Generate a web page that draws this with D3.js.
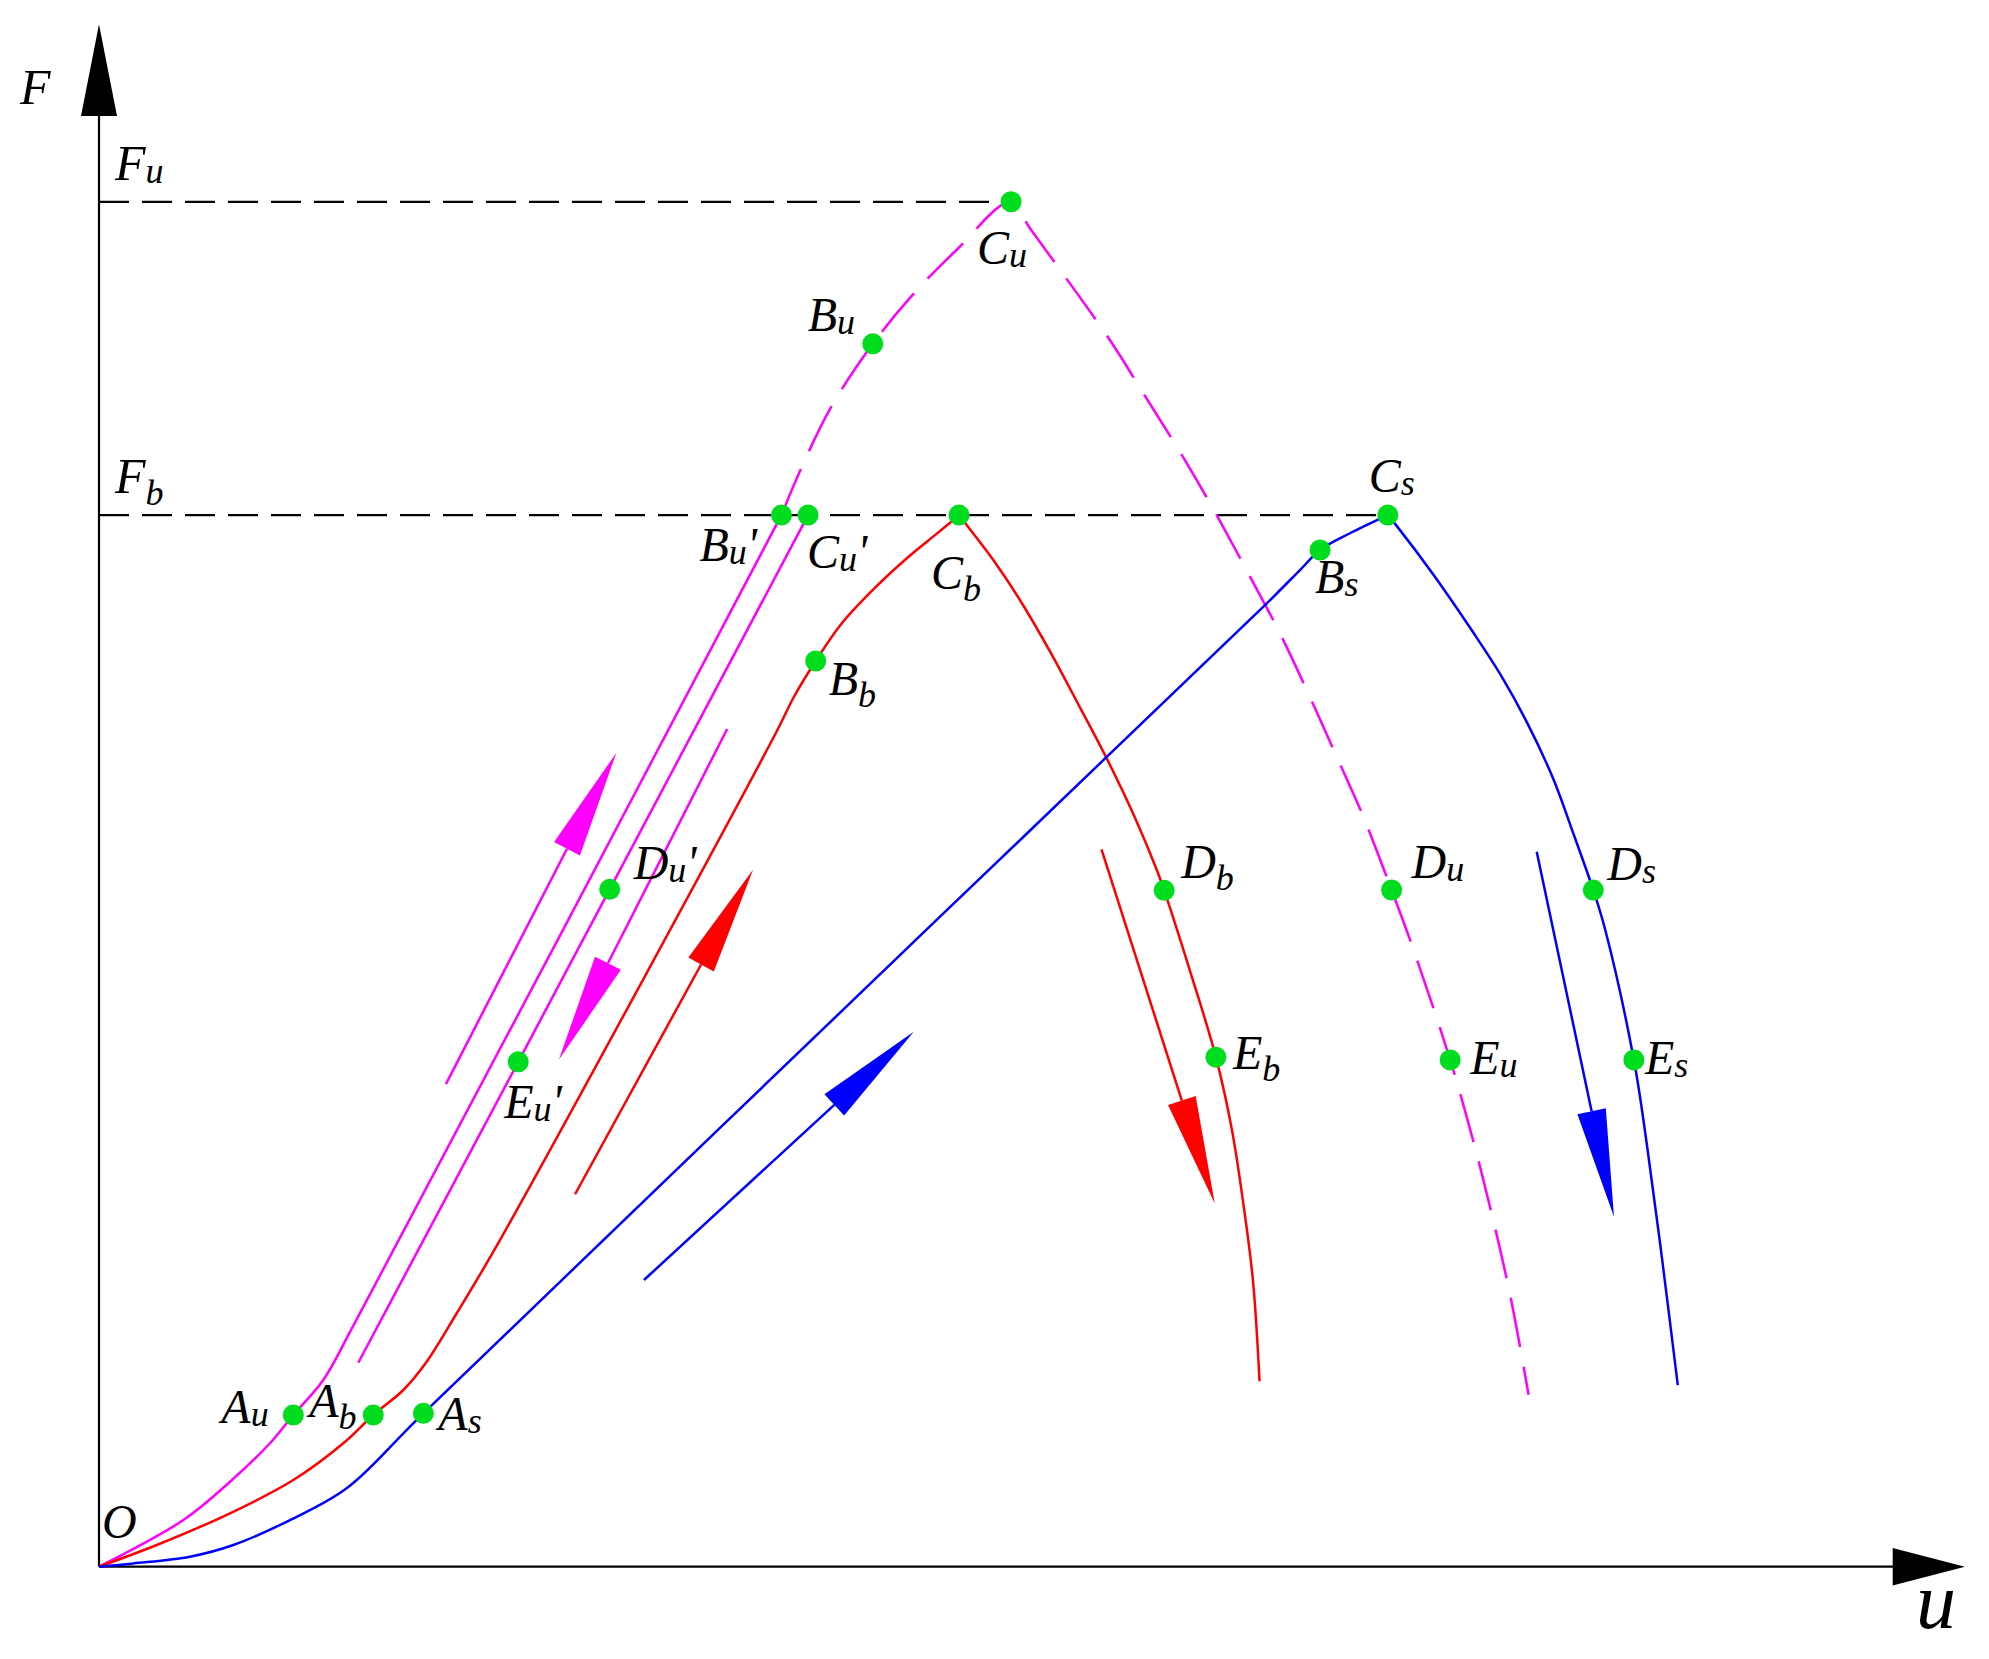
<!DOCTYPE html>
<html><head><meta charset="utf-8">
<script src="https://cdn.jsdelivr.net/npm/d3@7"></script>
<style>body{margin:0;background:#fff}svg{display:block}</style>
</head><body>
<svg id="chart" width="1989" height="1659"></svg>
<script>
// ---------- data (schematic units: u along x, F along y) ----------
const axisMax = {u: 1471, F: 1216};
const levelNames = ["u", "b"];
const levelF = [1076, 829];
const levelUEnd = [719, 1016];

const ultLoad = [[0,0],[66.5,36.8],[103.3,67],[134.8,97.3],[153.2,119.6],[176.8,147.2],[200,189],[538,829]];
const ultPeak = [[538,829],[553.6,866],[577,914],[610,964],[640,1001],[676,1038],[719,1076],[734,1055],[796.5,967.6],[824.8,922.6],[853,877.5],[865.3,856.7],[880,831],[906,783.1],[931,735.8],[953.3,688.5],[975.7,638.6],[996.7,591.3],[1019,533.5],[1035,490],[1065.2,399.5],[1083.2,336.2],[1099.9,269.9],[1113.4,209.5],[1127,135.6]];
const ultUnload = [[559,829],[402.6,534],[330.5,398],[204.4,160.8]];

const bLoad = [[0,0],[45.5,17.1],[103.3,42.1],[153.2,68.3],[192.6,97.3],[216.2,119.6],[239.9,139.3],[258.3,161.6],[282,199.8],[316.1,257.5],[534,658],[548,686],[565,714],[585,743],[612,772],[638,796],[660,814],[678,829]];
const bUnload = [[678,829],[684,821.2],[705,793.6],[726,762.1],[750,721],[773,678],[795,636],[816,592],[834,549],[839.7,533.2],[860,470],[880.5,401.7],[893,345],[902.3,284.9],[909.8,224.6],[914.9,146.2]];

const sLoad = [[0,0],[27,2.6],[71.7,7.9],[105.9,17.1],[150.6,36.8],[195.2,61.8],[255.7,120.9],[663,512.4],[919.2,758.1],[946.8,785.7],[962.6,801.5],[986.2,814.7],[1016,829]];
const sUnload = [[1016,829],[1023,820.5],[1052,782],[1083,737],[1105,703],[1126,665],[1146.5,621],[1162.2,578.2],[1178,533.4],[1187.4,502.1],[1210,399.5],[1220.6,330.2],[1232.6,239.7],[1244.6,143.1]];

const pointMain = ["A","A","A","B","C","B","C","C","B","C","B","D","E","D","E","D","E","D","E"];
const pointSub  = ["u","b","s","u","u","u","u","b","b","s","s","u","u","b","b","u","u","s","s"];
const pointPrime= [false,false,false,false,false,true,true,false,false,false,false,true,true,false,false,false,false,false,false];
const pointU = [153.2,216.2,255.7,610,719,538,559,678,565,1016,962.6,402.6,330.5,839.7,880.5,1019,1065.2,1178,1210];
const pointF = [119.6,119.6,120.9,964,1076,829,829,829,714,829,801.5,534,398,533.2,401.7,533.5,399.5,533.4,399.5];

const arrowKind  = ["u","u","b","b","s","s"];
const arrowStart = [[273.5,380.4],[495.2,660.4],[375.3,293.6],[790.3,565.5],[429.6,226],[1133.4,563.7]];
const arrowTip   = [[407.9,641.7],[362.6,399.8],[515.6,549.4],[879.6,286.4],[642.3,421.7],[1194.3,275.8]];

// ---------- layout / style ----------
const color = {u: "#ff00ff", b: "#ff0000", s: "#0000ff"};
const labelOffset = [[-72,8],[-64,2],[15,17],[-65,-13],[-34,62],[-82,46],[-1,53],[-28,74],[13,34],[-19,-23],[-5,43],[24,-10],[-14,56],[17,-12],[17,12],[20,-12],[20,14],[14,-10],[11,14]];
const FONT = "'Liberation Serif','Times New Roman',serif";

const svg = d3.select("#chart");
const x = d3.scaleLinear().domain([0, axisMax.u]).range([99, 99 + axisMax.u * 1.2685]);
const y = d3.scaleLinear().domain([0, axisMax.F]).range([1566.7, 1566.7 - axisMax.F * 1.2685]);

// axes
svg.append("line").attr("x1", x(0)).attr("y1", y(0)).attr("x2", x(0)).attr("y2", y(1150))
  .attr("stroke", "#000").attr("stroke-width", 2.2);
svg.append("line").attr("x1", x(0)).attr("y1", y(0)).attr("x2", x(1420)).attr("y2", y(0))
  .attr("stroke", "#000").attr("stroke-width", 2.2);
svg.append("path").attr("d", `M${x(0)},${y(axisMax.F)} L${x(0)-18},${y(1143.6)} L${x(0)+18},${y(1143.6)} Z`).attr("fill", "#000");
svg.append("path").attr("d", `M${x(axisMax.u)},${y(0)} L${x(1414)},${y(0)-18.7} L${x(1414)},${y(0)+18.7} Z`).attr("fill", "#000");

// level dashed lines
levelF.forEach((f, i) => {
  svg.append("line").attr("x1", x(0)).attr("x2", x(levelUEnd[i])).attr("y1", y(f)).attr("y2", y(f))
    .attr("stroke", "#000").attr("stroke-width", 2.2).attr("stroke-dasharray", "30,13");
});

const line = d3.line().x(d => x(d[0])).y(d => y(d[1])).curve(d3.curveCatmullRom.alpha(0.5));
function drawCurve(data, col, dash) {
  const p = svg.append("path").attr("d", line(data)).attr("fill", "none")
    .attr("stroke", col).attr("stroke-width", 2.5).attr("stroke-linejoin", "round");
  if (dash) p.attr("stroke-dasharray", dash);
}
drawCurve(ultLoad, color.u);
drawCurve(ultPeak, color.u, "50,20");
drawCurve(ultUnload, color.u);
drawCurve(bLoad, color.b);
drawCurve(bUnload, color.b);
drawCurve(sLoad, color.s);
drawCurve(sUnload, color.s);

// arrows
const HEAD_L = 108, HEAD_W = 14.5;
arrowStart.forEach((s, i) => {
  const t = arrowTip[i];
  const sx = x(s[0]), sy = y(s[1]), tx = x(t[0]), ty = y(t[1]);
  const len = Math.hypot(tx - sx, ty - sy);
  const ux = (tx - sx) / len, uy = (ty - sy) / len;
  const bx = tx - ux * HEAD_L, by = ty - uy * HEAD_L;
  const nx = -uy, ny = ux;
  const col = color[arrowKind[i]];
  svg.append("line").attr("x1", sx).attr("y1", sy).attr("x2", bx).attr("y2", by)
    .attr("stroke", col).attr("stroke-width", 2.5);
  svg.append("path").attr("d", `M${tx},${ty} L${bx + nx*HEAD_W},${by + ny*HEAD_W} L${bx - nx*HEAD_W},${by - ny*HEAD_W} Z`)
    .attr("fill", col);
});

// points
pointU.forEach((u, i) => {
  svg.append("circle").attr("cx", x(u)).attr("cy", y(pointF[i])).attr("r", 10.5).attr("fill", "#00dc1e");
});

function subLabel(px, py, main, sub, prime, size, subSize) {
  const shift = sub === "b" ? 12 : 3;
  const t = svg.append("text").attr("x", px).attr("y", py)
    .attr("font-family", FONT).attr("font-style", "italic").attr("font-size", size).attr("fill", "#000");
  t.append("tspan").text(main);
  t.append("tspan").attr("font-size", subSize).attr("dy", shift).text(sub);
  if (prime) t.append("tspan").attr("dy", -shift).attr("font-size", size).text("'");
}
pointU.forEach((u, i) => {
  subLabel(x(u) + labelOffset[i][0], y(pointF[i]) + labelOffset[i][1], pointMain[i], pointSub[i], pointPrime[i], 48, 36);
});
levelF.forEach((f, i) => {
  subLabel(115, i === 0 ? 180 : 493, "F", levelNames[i], false, 50, 36);
});

// axis labels
svg.append("text").attr("x", 20).attr("y", 104).attr("font-family", FONT).attr("font-style", "italic")
  .attr("font-size", 50).text("F");
svg.append("text").attr("x", 102).attr("y", 1538).attr("font-family", FONT).attr("font-style", "italic")
  .attr("font-size", 48).text("O");
svg.append("text").attr("x", 1916).attr("y", 1628).attr("font-family", FONT).attr("font-style", "italic")
  .attr("font-size", 80).text("u");
</script>
</body></html>
